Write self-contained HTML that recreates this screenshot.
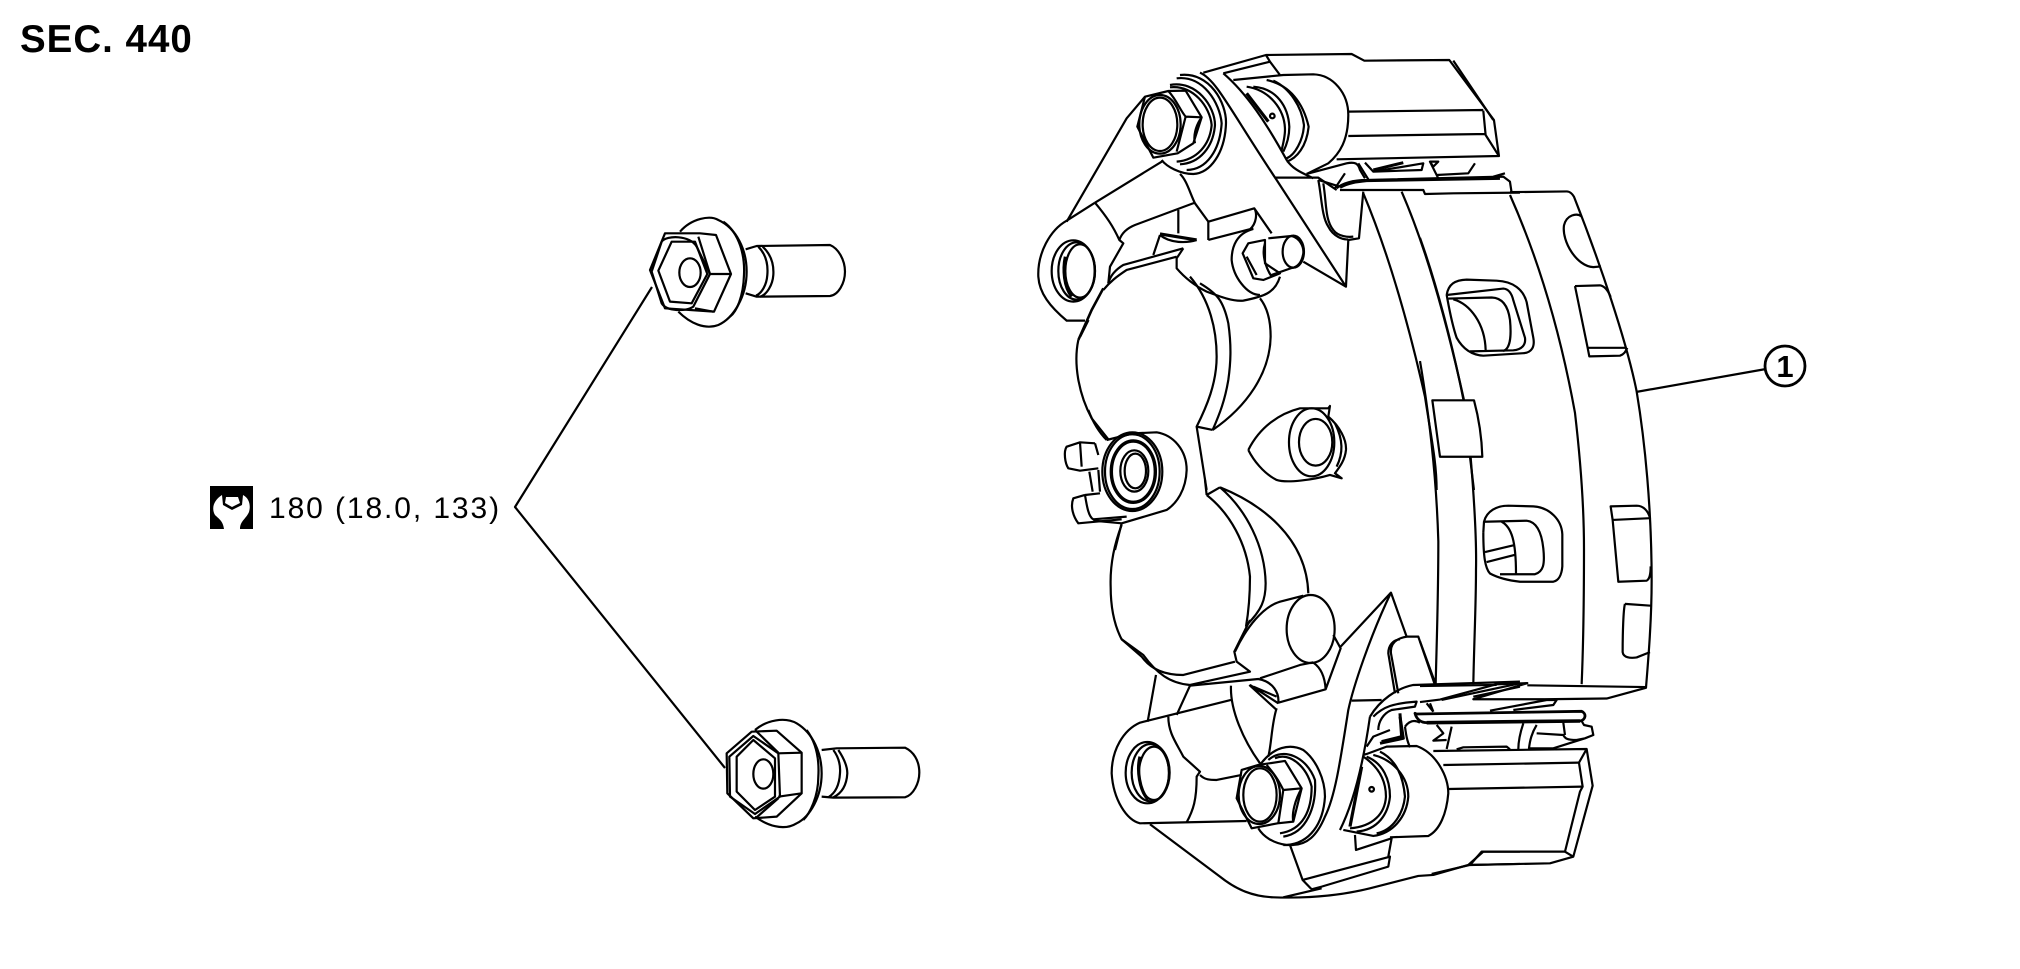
<!DOCTYPE html>
<html><head><meta charset="utf-8"><style>
html,body{margin:0;padding:0;background:#fff;width:2020px;height:969px;overflow:hidden}
svg{display:block}
path,ellipse,circle,line{fill:none;stroke:#000;stroke-width:2.2;vector-effect:non-scaling-stroke;stroke-linejoin:round}
text{font-family:"Liberation Sans",sans-serif;fill:#000}
</style></head><body>
<svg width="2020" height="969" viewBox="0 0 2020 969" xmlns="http://www.w3.org/2000/svg">
<text x="20" y="52" font-size="38.5" font-weight="700" letter-spacing="1">SEC. 440</text>
<rect x="210" y="486" width="43" height="43" fill="#000"/>
<path style="fill:#fff;stroke:none" d="M222,495 C214,500 211,508 215,515 C219,519 223,521 224,529 L240,529 C240,521 246,519 249,512 C251,505 249,498 243,495 L242,505 L232,510 L223,505 Z"/>
<path style="fill:#fff;stroke:none" d="M226,497 L238,497 L240,503 L232,507 L225,503 Z"/>
<text x="269" y="518" font-size="30" letter-spacing="1.9">180 (18.0, 133)</text>
<path d="M652,287 L515,507 L725,768"/>

<!-- upper bolt -->
<g transform="translate(630,200) scale(.3333)">
<path d="M150,95 C185,55 240,45 265,60 C320,85 350,150 350,215 C350,290 310,355 265,375 C225,390 180,370 145,335"/>
<path d="M280,65 C330,100 345,170 342,225 C340,290 320,335 300,350"/>
<path d="M105,100 L210,100 L258,105 L303,222 L252,335 L105,325 L60,210 Z"/>
<path d="M125,125 L195,125 L232,222 L185,310 L120,305 L85,212 Z"/>
<ellipse cx="180" cy="218" rx="32" ry="43"/>
<path d="M95,125 C110,105 180,105 200,140 L240,222 L190,320 C170,335 110,335 95,310 L65,215 Z"/>
<path d="M238,222 L303,222 M205,110 L240,222 M195,325 L250,335"/>
<path d="M347,148 L380,138 L600,135 C625,145 645,180 645,215 C645,250 625,285 600,288 L380,290 L347,280"/>
<path d="M385,140 C405,160 415,190 412,225 C410,255 395,280 378,287 M398,140 C425,165 432,195 430,225 C428,255 410,285 390,290"/>
</g>
<!-- lower bolt -->
<g transform="translate(710,710) scale(.3333)">
<path d="M135,60 C170,30 225,20 260,40 C310,70 335,130 335,190 C335,260 300,320 260,340 C220,365 170,345 135,320"/>
<path d="M290,60 C320,100 328,150 325,200 C325,260 300,310 280,330"/>
<path d="M125,65 L200,62 L275,128 L275,250 L200,320 L130,325 L52,250 L50,130 Z"/>
<path d="M130,90 L195,145 L195,260 L135,300 L80,245 L80,140 Z"/>
<path d="M130,78 L205,130 L210,260 L135,312 L60,260 L58,140 Z"/>
<ellipse cx="160" cy="192" rx="30" ry="44"/>
<path d="M205,130 L275,128 M205,260 L275,250 M135,60 L205,128 M140,322 L205,265"/>
<path d="M335,120 L380,115 L585,113 C610,125 628,150 628,188 C628,220 610,255 585,262 L370,263 L335,260"/>
<path d="M385,120 C405,150 412,170 412,190 C410,225 395,250 370,262 M370,120 C385,140 392,165 390,190 C388,225 375,250 355,262"/>
</g>

<!-- caliper top -->
<g transform="translate(1020,30) scale(.3333)">
<path d="M550,128 L738,75 L995,72 L1033,92 L1288,90 L1422,270 L1437,378 L950,388"/>
<path d="M610,130 L750,95 L780,135 M750,95 L738,75 M1300,92 L1420,270 M1390,242 L1397,315 L1437,378 M985,245 L1390,240 M985,318 L1397,312"/>
<path d="M640,150 L790,135 L880,133 C940,135 985,190 985,255 C985,330 960,370 925,400 L860,432"/>
<path d="M740,150 C810,165 850,220 866,290 C860,350 830,385 800,395 M760,152 C810,175 845,230 852,285 C850,330 825,375 800,385 M700,170 C770,175 805,230 808,290 C808,320 800,345 790,365 M680,170 C750,180 795,240 795,300 C795,320 790,340 785,360"/>
<circle cx="757" cy="258" r="7"/>
<path d="M680,190 L745,275" style="stroke-width:3.2"/>
<path d="M480,135 C570,125 620,220 618,280 C615,370 570,430 520,432 C480,432 440,410 425,390"/>
<path d="M470,145 C550,135 600,220 605,280 C600,360 560,420 500,420 M450,165 C530,150 585,230 585,285 C580,350 540,400 480,403 M450,172 C520,165 570,230 575,285 C570,345 530,390 470,395"/>
<path d="M375,200 L445,183 L497,182 L545,262 L520,340 L473,370 L400,383 L352,290 Z"/>
<ellipse cx="420" cy="283" rx="62" ry="88"/><ellipse cx="420" cy="283" rx="52" ry="80"/>
<path d="M497,260 L545,262 M497,260 L470,365 M445,183 C470,210 480,240 497,260 M545,262 C525,290 520,320 525,340"/>
<path d="M540,128 C590,150 630,240 770,450 L978,770 L985,630 L1017,625 L1030,485"/>
<path d="M610,130 C680,190 740,280 800,390 C820,420 850,430 880,445 M765,443 L895,443 L950,480"/>
<path d="M895,450 C905,500 905,560 925,590 C940,620 970,630 985,628 M910,460 C920,520 915,570 940,600 C955,620 985,622 1000,620"/>
<path d="M850,695 L978,770"/>
<path d="M140,575 L320,265 L375,200 M225,518 L430,392"/>
<path d="M225,518 L140,572 C90,600 52,670 55,740 C58,790 90,830 140,872 L195,872"/>
<path d="M225,518 C260,560 280,590 298,630 L310,640 L270,710 L265,760"/>
<ellipse cx="160" cy="723" rx="65" ry="92"/><ellipse cx="170" cy="723" rx="55" ry="86"/><ellipse cx="180" cy="723" rx="44" ry="80"/>
<path d="M136,680 C128,720 132,770 155,800" style="stroke-width:3.2"/>
<path d="M480,432 C500,450 510,490 525,520 L565,575 L565,630 M525,518 L345,585 C320,595 305,610 298,630"/>
<path d="M565,575 L703,535 C712,550 710,580 690,598 M703,535 L755,610 M475,540 L475,610 M420,615 L400,675 M420,615 C450,640 500,640 530,630 M565,630 L700,595"/>
<path d="M420,612 L530,630" style="stroke-width:3.2"/>
<path d="M470,680 L320,720 C290,740 270,755 250,780 M490,655 L310,705 C285,720 270,740 265,760"/>
<path d="M490,655 L470,685 L470,715 C500,750 530,770 560,785 C600,800 640,815 670,812 C730,800 765,790 780,740"/>
<path d="M700,597 C650,610 635,650 635,690 C640,740 680,795 720,795"/>
<path d="M668,670 L685,640 L735,630 L735,700 L780,730 L730,750 L700,745 Z M680,680 L710,735"/>
<path d="M745,625 L815,618 C840,625 852,650 850,670 C845,700 830,712 815,714 L755,735 M735,640 C725,670 735,710 755,740"/>
<ellipse cx="820" cy="665" rx="32" ry="48"/>
<path d="M175,930 L215,840 L250,775 M180,920 L205,870" style="stroke-width:2.6"/>
<path d="M175,930 C160,1000 175,1090 215,1165 L265,1228"/>
<path d="M510,740 C570,810 590,900 590,980 C590,1060 560,1130 530,1190 L578,1200"/>
<path d="M540,760 C590,790 610,810 625,880 C635,950 632,1000 625,1050 C615,1110 600,1150 578,1200"/>
<path d="M578,1200 C680,1130 750,1030 752,920 C752,870 740,830 720,805"/>
<path d="M530,1190 L560,1380"/>
<path d="M685,1260 C720,1190 780,1150 840,1135 L925,1135 L930,1128 L925,1160 C960,1190 980,1230 978,1260 C975,1290 960,1310 945,1330 L965,1345 L930,1335 C880,1350 800,1360 770,1350 C730,1330 700,1290 685,1260"/>
<ellipse cx="875" cy="1237" rx="68" ry="102"/><ellipse cx="887" cy="1237" rx="50" ry="70"/>
<path d="M945,1180 C970,1230 970,1270 950,1310"/>
<path d="M1030,490 C1110,680 1170,900 1215,1100 C1235,1230 1250,1300 1250,1380 M1145,485 C1230,680 1290,920 1332,1110 M1350,1280 L1362,1380"/>
<path d="M860,432 L980,400 C1005,395 1015,400 1020,420 L1035,445 M950,475 C965,460 1000,450 1040,450 L1450,440 L1470,455 L1475,488 M960,480 L1210,480 L1215,492 L1300,490 L1500,488"/>
<path d="M1035,398 L1060,425 L1210,400 L1205,420 L1060,425 M1230,395 L1255,395 L1240,410 Z M1230,395 L1255,445 M1365,400 L1345,430 L1250,435 M1420,440 L1455,430 M1015,400 L1045,448 M960,470 L895,450 M945,475 L975,430"/>
<path d="M1060,420 L1150,398 M960,472 C985,458 1010,455 1040,452 L1440,445" style="stroke-width:3"/>
</g>

<!-- center bolt and lugs -->
<g transform="translate(1050,410) scale(.3333)">
<path d="M170,90 L250,70 L320,67 C370,75 410,120 410,180 C408,240 380,280 350,300 L215,340 L130,332"/>
<ellipse cx="247" cy="185" rx="90" ry="118"/><ellipse cx="247" cy="185" rx="82" ry="112"/>
<ellipse cx="250" cy="185" rx="66" ry="92" style="stroke-width:3.4"/>
<ellipse cx="253" cy="183" rx="42" ry="62"/><ellipse cx="256" cy="183" rx="32" ry="52"/>
<path d="M135,100 L90,97 L50,110 C40,125 45,160 55,175 L90,182 L145,175 M90,97 L95,170 M135,100 L145,135"/>
<path d="M118,185 L128,245 M145,180 L150,245"/>
<path d="M105,255 L70,265 C60,290 70,320 85,340 L215,328 M105,255 L150,250 M105,255 C110,285 115,320 130,328 L230,320"/>
<path d="M115,0 C130,40 150,70 170,90 M215,340 L195,420"/>
</g>

<!-- caliper bottom -->
<g transform="translate(1020,480) scale(.3333)">
<path d="M305,135 C280,200 270,260 272,320 C272,390 285,440 305,478 L365,530 C395,570 435,585 490,585 L645,545"/>
<path d="M305,478 L370,525 C410,580 450,610 510,615 L690,575 L650,545 L643,515 L690,420"/>
<path d="M560,45 L600,22 M560,45 C630,100 680,190 690,290 C690,340 685,400 678,440 M600,22 C680,90 735,200 737,310 C737,360 725,390 680,435 M600,22 C720,70 860,170 865,340"/>
<path d="M555,0 L560,45"/>
<ellipse cx="872" cy="447" rx="72" ry="102"/>
<path d="M645,515 C680,440 730,380 780,365 L850,347 M880,547 L840,555 L720,595 M940,465 L962,505 L917,628 L775,668 C778,640 760,605 715,597 L510,617 M880,548 C905,565 915,595 917,628"/>
<path d="M962,500 L1113,338 L1160,470 L1195,470 L1245,615"/>
<path d="M1113,338 C1050,470 1000,620 985,690 C960,850 945,950 915,1010 C890,1070 860,1093 820,1095 L790,1095"/>
<path d="M1135,640 L1113,520 C1110,490 1130,475 1160,470 M1125,640 L1105,520 C1105,495 1120,480 1140,478"/>
<path d="M688,615 L770,690 M690,615 L775,670 M700,620 L770,650"/>
<path d="M408,585 L383,725 M510,617 L470,705 M633,617 C630,690 670,780 720,850 M770,685 C755,730 755,790 745,830"/>
<path d="M633,660 L360,728 C310,750 275,810 275,880 C280,960 320,1020 360,1030 L680,1023"/>
<path d="M445,710 C445,760 470,790 490,830 L540,875 L530,890 C530,960 520,990 500,1027 M540,885 C555,900 570,900 590,900 L665,885"/>
<ellipse cx="382" cy="878" rx="65" ry="92"/><ellipse cx="392" cy="878" rx="57" ry="86"/><ellipse cx="402" cy="880" rx="45" ry="80"/>
<path d="M360,830 C350,870 358,930 385,960" style="stroke-width:3.2"/>
<path d="M720,855 C760,800 810,790 850,810 C890,840 915,900 915,950 C910,1030 870,1090 800,1095 C760,1090 730,1070 715,1045"/>
<path d="M745,840 C790,800 860,830 885,900 C890,980 860,1060 790,1070 M765,835 C810,815 860,860 875,920 C875,990 850,1050 780,1060"/>
<path d="M665,870 L715,855 L795,843 L845,925 L820,1025 L773,1030 L695,1045 L650,955 Z"/>
<ellipse cx="720" cy="945" rx="50" ry="80"/><ellipse cx="718" cy="945" rx="62" ry="87"/>
<path d="M740,855 C770,890 780,910 790,930 L845,925 M790,930 L775,1030 M845,925 C825,960 815,1000 820,1025"/>
<path d="M390,1033 L600,1190 C650,1230 700,1250 760,1252 C850,1255 950,1250 1050,1225 L1195,1188 L1240,1185 L1345,1155 L1390,1115 L1500,1115 M1345,1155 L1500,1152"/>
<path d="M810,1095 L848,1200 L875,1228 L905,1220 L1105,1160 L1110,1130 L848,1200 M790,1252 L905,1225 M1005,1065 L1008,1110 L1115,1075 L1105,1130"/>
<path d="M1030,825 L1040,822 L1100,800 L1190,798 C1250,820 1285,890 1285,940 C1280,1000 1260,1050 1225,1068 L1110,1072"/>
<path d="M1060,825 C1120,840 1165,890 1165,950 C1160,1010 1120,1060 1060,1068 L970,1050 M1080,815 C1130,840 1150,890 1155,950 C1150,1000 1120,1050 1070,1060"/>
<path d="M1040,830 C1090,850 1110,900 1110,950 C1105,1000 1075,1050 1010,1055 M1030,830 C1075,860 1098,900 1098,950 C1095,1000 1060,1040 990,1045"/>
<path d="M1025,860 L990,1040" style="stroke-width:3.2"/>
<circle cx="1055" cy="928" r="7"/>
<path d="M995,662 L1085,660 M1050,710 C1030,850 1000,970 960,1050"/>
<path d="M1050,710 C1080,660 1130,625 1180,615 L1500,605 M1265,660 L1500,610 M1360,650 L1500,620"/>
<path d="M1060,710 C1090,680 1120,670 1190,665 L1185,680 L1115,690 C1090,700 1075,725 1075,750 M1220,670 L1240,695 M1040,800 L1060,770 L1110,750"/>
<path d="M1140,700 L1145,770 L1085,785" style="stroke-width:3"/>
</g>

<!-- lower right housing -->
<g transform="translate(1380,670) scale(.3333)">
<path d="M160,243 L620,237 L638,347 L580,560 L510,580 L270,585 L305,545 L555,545 L600,365 L608,350 L597,278 L620,237"/>
<path d="M205,357 L608,350 M190,285 L597,278 M555,545 L580,560 M270,585 L155,612"/>
<path d="M105,130 C110,150 125,158 140,158 L600,153 C618,150 620,130 605,124 L110,132 Z" style="stroke-width:2.8"/>
<path d="M140,158 L600,153" style="stroke-width:3.6"/>
<path d="M60,140 L70,205 L0,220" style="stroke-width:3"/>
<path d="M75,170 C90,150 105,150 120,158 M75,170 C80,210 85,220 90,232 M150,100 L160,125 M170,165 L190,190 L160,212 L200,210 M215,170 L200,237 M230,238 L250,232 L380,230 L390,238"/>
<path d="M430,160 C420,190 415,215 415,238 M470,165 C455,190 450,210 447,235 L520,235 L615,205 L640,195 L635,170 L612,165 L605,153 M470,190 L550,195 C555,205 560,210 590,210 L615,205 M550,158 L555,195"/>
<path d="M330,122 L500,90 L530,90 L520,105 L400,120"/>
</g>

<!-- pad/right side -->
<g transform="translate(1420,170) scale(.3333,.3571)">
<path d="M270,62 L440,60 C450,60 458,68 462,75 C540,260 620,480 650,620 C675,760 695,950 695,1150 C695,1260 685,1370 678,1450 L560,1480 L375,1482"/>
<path d="M0,1445 L230,1442 M322,1443 L678,1448"/>
<path d="M270,70 C370,280 430,500 465,680 C480,800 492,930 492,1060 C492,1200 490,1330 485,1440"/>
<path d="M130,642 C100,500 50,320 0,190 M152,805 C165,950 170,1040 168,1120 C168,1220 162,1330 160,1440"/>
<path d="M0,535 C30,700 50,880 55,1040 C55,1200 50,1320 47,1440 M0,1320 L47,1440"/>
<path d="M37,645 L162,645 C175,690 185,740 187,803 L60,803 Z"/>
<path d="M485,130 C470,120 440,125 432,155 C425,200 470,270 520,272 L543,270"/>
<path d="M465,325 L540,323 C555,325 565,340 572,355 M465,325 L503,498 L508,522 L600,520 C615,515 618,505 622,498 M503,498 L620,498"/>
<path d="M80,350 C85,320 105,308 140,307 L230,310 C280,312 310,335 320,370 L340,470 C345,495 335,512 310,513 L190,520 C150,518 125,495 110,470 C95,430 88,390 80,350"/>
<path d="M80,350 L250,332 C265,333 275,345 280,365 L315,470 C318,490 305,503 280,505 L150,508 M85,360 L215,357 C250,358 265,385 270,420 C275,470 270,500 250,507 M100,362 C150,375 195,430 197,505"/>
<path d="M190,1015 L192,985 C200,955 230,940 265,940 L340,942 C390,945 425,980 427,1020 L427,1110 C425,1135 415,1150 400,1153 L300,1153 C270,1150 240,1145 210,1130 C195,1115 190,1080 190,1015"/>
<path d="M192,985 L320,982 C350,985 365,1015 370,1060 C375,1105 370,1125 345,1132 L240,1132 M245,985 C275,1000 288,1040 288,1130 M195,1070 L285,1050 M200,1098 L288,1077"/>
<path d="M572,942 L650,940 C670,940 685,955 690,975 L578,980 Z M578,980 L595,1153 L680,1150 C690,1145 692,1130 692,1110"/>
<path d="M615,1215 L692,1220 M615,1215 C610,1230 608,1300 608,1350 C610,1365 630,1368 650,1365 L690,1350"/>
<path d="M60,1483 L230,1440 L322,1437 L160,1482 L375,1482 M0,1490 L60,1483"/>
</g>
<path d="M1636,392 L1766,369"/>
<circle cx="1785" cy="366" r="20" style="stroke-width:2.8"/>
<text x="1785" y="377" font-size="31" font-weight="700" text-anchor="middle">1</text>
</svg>
</body></html>
